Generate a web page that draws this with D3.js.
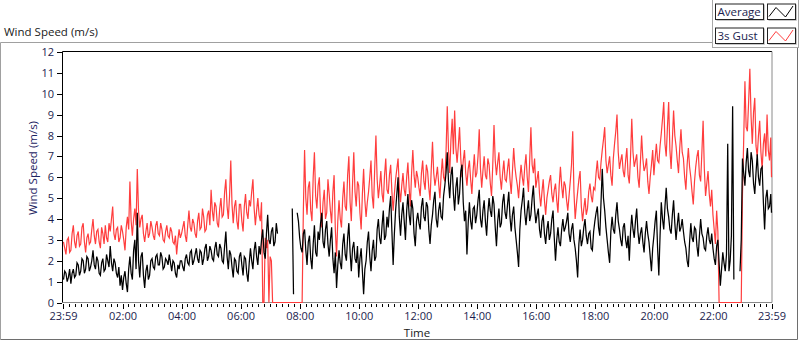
<!DOCTYPE html>
<html>
<head>
<meta charset="utf-8">
<script src="https://cdnjs.cloudflare.com/ajax/libs/d3/7.8.5/d3.min.js"></script>
<style>
	body { margin: 0; background: #fff; }
	svg text { font-family: 'Open Sans', 'Noto Sans', sans-serif; font-size: 11.5px; }
</style>
</head>
<body>
<div class="wind_chart"></div>
<script>
const WIDTH = 800;
const HEIGHT = 342;
const PLOT = { left: 62.5, right: 772, top: 51.5, bottom: 302.5 };

// one sample every 2.5 minutes, starting at 00:00
const SAMPLE_MIN = 2.5;
const START_MIN = -1; // 23:59 the day before
const END_MIN = 1439; // 23:59

const yTicks = [0, 1, 2, 3, 4, 5, 6, 7, 8, 9, 10, 11, 12];
const timeTickMins = [-1, 120, 240, 360, 480, 600, 720, 840, 960, 1080, 1200, 1320, 1439];
const timeTickLabels = ['23:59', '02:00', '04:00', '06:00', '08:00', '10:00', '12:00',
	'14:00', '16:00', '18:00', '20:00', '22:00', '23:59'];
const seriesNames = ['Average', '3s Gust'];

// average wind speed (m/s), one row per hour 00..23, null = no reading
const avgSpeed = [
	1.1, 1.5, 1.4, 1.0, 1.2, 1.6, 0.9, 1.4, 1.6, 1.2, 1.3, 1.9, 1.8, 1.3, 1.5, 2.1, 2.0, 1.4, 1.6, 2.2, 2.1, 1.5, 1.7, 2.0,
	2.5, 1.8, 1.6, 2.2, 2.0, 1.4, 1.3, 1.9, 2.1, 1.5, 1.6, 2.3, 2.0, 1.7, 2.7, 1.9, 1.5, 2.1, 1.9, 1.4, 1.2, 1.7, 0.8, 1.3,
	0.6, 1.2, 1.5, 0.9, 0.5, 1.6, 2.2, 1.4, 1.1, 2.5, 3.0, 1.6, 4.3, 2.0, 1.2, 2.2, 2.4, 1.3, 0.7, 1.5, 1.8, 1.1, 1.3, 2.0,
	2.1, 1.7, 1.6, 2.2, 2.3, 1.8, 1.8, 2.4, 2.2, 1.6, 1.7, 2.1, 2.0, 1.8, 2.3, 1.9, 1.5, 2.0, 1.9, 1.4, 1.2, 1.8, 1.6, 2.0,
	2.0, 1.7, 1.5, 2.1, 2.3, 1.9, 1.8, 2.4, 2.5, 1.8, 2.0, 2.3, 2.6, 2.1, 1.9, 2.5, 2.4, 1.8, 2.1, 2.6, 2.8, 2.0, 2.2, 2.7,
	2.5, 2.1, 2.0, 2.6, 2.9, 2.3, 2.2, 2.8, 2.6, 2.0, 1.9, 2.7, 3.4, 2.2, 1.6, 2.5, 2.3, 1.7, 1.2, 2.1, 2.0, 1.5, 1.4, 2.2,
	2.4, 1.8, 1.3, 2.2, 2.1, 1.4, 1.0, 1.9, 2.6, 2.0, 1.6, 2.5, 2.9, 2.2, 1.8, 2.7, 2.3, 3.0, 3.5, 2.4, 2.1, 3.3, 4.2, 3.0,
	2.8, 3.4, 3.6, 2.7, 2.9, 3.8, 3.3, null, null, null, null, null, null, null, null, null, null, null, 4.5, 0.4, null, null, 4.3, 3.9,
	3.1, 2.6, 2.4, 3.3, 3.5, 2.5, 1.8, 2.9, 3.2, 2.1, 1.6, 2.8, 3.7, 2.4, 2.2, 3.4, 3.0, 3.8, 4.3, 2.9, 2.6, 3.5, 3.9, 2.8,
	2.2, 3.0, 3.6, 2.1, 1.4, 2.4, 0.7, 1.8, 2.5, 1.9, 1.6, 2.8, 3.3, 2.3, 2.0, 3.1, 3.8, 2.4, 1.5, 2.6, 2.9, 2.1, 1.9, 2.7,
	1.2, 2.1, 2.6, 1.5, 0.4, 1.6, 2.0, 2.9, 3.4, 2.2, 1.5, 2.5, 3.0, 2.0, 2.2, 3.5, 4.0, 3.1, 2.8, 3.7, 4.4, 3.0, 3.2, 4.1,
	3.6, 4.5, 5.1, 3.4, 1.8, 3.3, 4.4, 5.2, 6.0, 4.1, 3.2, 4.2, 4.8, 3.9, 3.0, 4.4, 5.2, 4.2, 3.7, 4.9, 4.5, 3.3, 2.7, 3.9,
	4.3, 3.8, 3.5, 4.6, 5.0, 4.1, 3.9, 4.8, 4.6, 3.5, 2.8, 3.7, 4.2, 4.9, 5.3, 4.0, 3.6, 4.4, 4.8, 4.1, 4.0, 5.1, 5.6, 6.2,
	7.2, 5.8, 5.0, 6.1, 6.5, 5.2, 4.4, 5.5, 6.0, 4.7, 5.2, 6.3, 6.6, 4.8, 3.9, 4.4, 2.3, 3.8, 4.8, 3.9, 3.5, 4.5, 4.6, 3.8,
	4.2, 4.9, 5.4, 4.0, 3.6, 4.4, 4.9, 3.9, 3.2, 4.3, 5.0, 4.4, 4.1, 5.1, 4.7, 3.6, 2.7, 3.9, 4.5, 3.6, 3.8, 4.8, 5.2, 4.3,
	4.0, 4.7, 5.3, 4.1, 3.4, 4.2, 4.6, 3.6, 3.0, 2.4, 1.7, 3.5, 4.4, 4.9, 5.5, 4.3, 3.7, 4.4, 4.9, 3.9, 4.2, 5.0, 5.6, 4.5,
	3.8, 4.2, 4.5, 3.5, 3.1, 3.9, 4.2, 3.3, 2.8, 3.5, 3.9, 3.0, 3.3, 4.0, 4.4, 3.1, 2.0, 3.0, 3.6, 2.9, 2.7, 3.5, 4.0, 3.4,
	3.6, 3.9, 4.3, 3.3, 2.9, 3.5, 3.8, 3.0, 2.6, 2.0, 1.2, 2.8, 3.5, 2.7, 3.0, 3.6, 4.0, 3.2, 2.8, 3.3, 3.4, 2.6, 2.5, 3.4,
	3.9, 4.3, 4.6, 3.6, 3.2, 4.8, 6.4, 5.0, 4.4, 3.6, 3.0, 2.4, 1.9, 3.4, 4.1, 3.5, 3.3, 4.2, 4.8, 3.9, 3.5, 3.0, 2.7, 3.6,
	3.8, 3.0, 2.6, 3.2, 2.0, 3.4, 4.2, 3.5, 3.1, 3.9, 4.5, 3.4, 2.8, 3.3, 3.6, 2.9, 2.4, 3.3, 3.9, 3.3, 2.9, 2.2, 1.5, 2.6,
	3.2, 3.9, 4.4, 2.6, 1.3, 3.2, 4.8, 4.0, 3.5, 4.6, 5.5, 4.5, 4.1, 3.5, 3.3, 4.2, 4.9, 3.8, 3.0, 3.7, 4.3, 3.4, 3.6, 4.0,
	3.4, 2.9, 2.6, 2.0, 1.7, 2.9, 3.8, 3.1, 2.9, 3.6, 3.5, 2.7, 2.2, 3.2, 4.0, 3.3, 3.1, 2.6, 2.5, 3.2, 3.6, 3.0, 2.8, 3.3,
	2.6, 2.1, 1.8, 2.7, 3.0, 1.9, 0.8, 1.6, 2.4, 1.9, 1.5, 2.3, 7.6, 1.5, 2.0, 3.2, 9.4, 1.1, null, null, null, null, 1.5, 3.0,
	6.9, 6.2, 5.6, 6.7, 7.4, 6.3, 6.0, 7.2, 6.8, 5.7, 5.2, 6.2, 7.1, 6.0, 5.6, 6.4, 6.5, 4.8, 3.5, 5.0, 5.4, 4.5, 4.6, 5.2,
	4.3
];

// 3 second gust (m/s), same layout
const gustSpeed = [
	2.9, 2.6, 2.3, 3.0, 3.1, 2.4, 2.5, 3.3, 3.7, 2.9, 2.6, 3.2, 3.4, 2.7, 2.8, 3.6, 3.8, 2.9, 2.4, 3.1, 3.3, 2.8, 2.9, 3.5,
	4.0, 3.2, 2.8, 3.4, 3.5, 2.9, 2.6, 3.6, 3.3, 2.8, 3.7, 3.1, 2.9, 3.8, 3.4, 4.0, 4.6, 3.3, 3.0, 3.5, 3.6, 2.9, 3.1, 3.7,
	3.4, 3.0, 2.5, 3.6, 4.1, 3.5, 5.8, 3.9, 3.2, 4.0, 4.5, 3.7, 6.4, 4.4, 3.6, 4.0, 4.2, 3.3, 2.9, 3.4, 3.8, 3.1, 3.3, 3.9,
	3.6, 3.2, 3.0, 3.7, 3.9, 3.3, 3.2, 3.8, 3.5, 3.0, 2.9, 3.4, 3.7, 3.2, 3.1, 3.6, 3.4, 2.9, 2.8, 3.2, 2.3, 3.0, 3.5, 3.1,
	3.3, 3.6, 3.9, 3.2, 2.9, 3.7, 4.4, 3.6, 3.4, 4.0, 3.8, 3.3, 3.1, 3.9, 4.3, 3.5, 3.6, 4.5, 4.1, 3.4, 3.5, 4.2, 4.4, 3.7,
	5.4, 4.4, 3.9, 4.8, 4.6, 3.8, 3.6, 4.5, 5.0, 4.1, 4.2, 5.3, 5.9, 4.6, 4.0, 5.1, 6.8, 4.7, 3.8, 4.6, 4.9, 3.9, 3.5, 4.7,
	4.7, 3.9, 3.4, 4.6, 5.2, 4.3, 4.0, 4.9, 4.6, 5.3, 5.9, 4.5, 3.7, 4.4, 5.0, 4.2, 3.9, 4.8, 0, 0, 3.1, 2.6, 3.0, 0,
	2.2, 2.0, 0, 0, 0, 0, 0, 0, 0, 0, 0, 0, 0, 0, 0, 0, 0, 0, 0, 0, 0, 0, 0, 0,
	0, 0, 0, 4.4, 7.3, 5.0, 4.2, 5.5, 5.8, 4.4, 3.9, 6.0, 7.2, 5.1, 4.5, 5.6, 6.0, 4.3, 3.6, 4.8, 5.4, 4.0, 4.3, 5.9,
	5.2, 4.4, 3.8, 5.3, 6.1, 3.5, 2.2, 3.9, 4.9, 4.0, 3.6, 5.0, 5.8, 4.6, 4.4, 6.1, 7.0, 4.8, 3.9, 5.7, 7.2, 5.3, 4.6, 5.8,
	5.6, 4.3, 3.5, 5.2, 6.4, 4.9, 4.1, 4.8, 5.3, 6.0, 6.8, 5.1, 4.5, 6.4, 8.0, 5.9, 5.0, 5.6, 6.3, 5.2, 4.8, 6.1, 6.9, 5.4,
	5.2, 6.1, 6.6, 5.3, 4.4, 5.2, 5.9, 6.4, 6.9, 5.5, 4.8, 5.6, 6.2, 5.4, 5.1, 6.0, 6.7, 5.5, 4.6, 6.2, 7.3, 6.1, 5.5, 6.3,
	6.0, 5.5, 5.1, 6.2, 6.8, 5.8, 5.4, 6.6, 6.3, 5.5, 4.9, 6.4, 7.7, 6.2, 5.6, 6.0, 6.5, 5.7, 5.0, 6.1, 6.9, 6.0, 5.8, 7.2,
	9.4, 7.3, 6.2, 7.8, 8.8, 7.1, 9.2, 7.4, 6.7, 7.5, 8.4, 6.9, 6.0, 6.8, 7.3, 6.2, 5.6, 6.4, 6.8, 5.9, 5.2, 6.3, 7.1, 6.0,
	6.2, 7.0, 8.3, 6.4, 5.5, 6.3, 7.0, 6.1, 5.9, 6.9, 6.6, 5.7, 5.1, 6.6, 8.5, 6.8, 6.1, 6.7, 7.2, 6.0, 5.4, 6.2, 6.8, 5.9,
	5.8, 6.4, 6.9, 5.9, 5.2, 6.3, 7.4, 6.5, 6.0, 5.6, 5.0, 5.9, 6.6, 6.0, 5.6, 6.5, 7.1, 6.0, 5.3, 6.8, 8.4, 6.6, 6.2, 6.9,
	5.5, 5.9, 6.3, 5.2, 4.6, 5.3, 5.9, 4.9, 4.2, 5.0, 5.4, 5.8, 6.1, 5.2, 4.8, 5.4, 5.7, 4.9, 4.3, 5.6, 6.5, 5.6, 5.0, 5.8,
	5.6, 4.9, 4.4, 5.1, 5.8, 6.6, 8.2, 5.3, 4.0, 4.7, 5.3, 5.9, 6.3, 4.6, 3.9, 4.5, 5.0, 4.2, 4.5, 5.3, 5.7, 5.1, 4.8, 5.5,
	5.4, 6.2, 6.8, 6.0, 5.9, 6.7, 7.3, 7.8, 8.4, 6.8, 6.2, 6.6, 7.0, 6.1, 5.6, 6.9, 7.6, 8.2, 9.0, 7.2, 6.4, 6.8, 7.1, 6.3,
	6.0, 6.8, 7.4, 6.1, 5.7, 7.0, 8.8, 7.2, 6.5, 6.8, 7.1, 6.0, 5.5, 6.7, 8.0, 6.9, 6.3, 6.5, 6.9, 5.8, 5.2, 6.0, 6.6, 7.3,
	6.1, 6.9, 7.6, 6.8, 6.7, 7.5, 8.1, 8.8, 9.6, 7.6, 7.0, 8.4, 9.6, 7.3, 6.4, 7.8, 9.2, 8.0, 7.5, 6.8, 6.2, 7.4, 8.3, 7.2,
	6.9, 6.0, 5.4, 6.6, 7.4, 6.5, 6.0, 5.3, 4.7, 5.8, 6.5, 7.0, 7.3, 6.1, 5.8, 7.2, 8.7, 6.4, 5.1, 5.7, 6.3, 5.2, 4.6, 5.4,
	4.2, 3.5, 2.8, 4.4, 3.4, 0, 0, 0, 0, 0, 0, 0, 0, 0, 0, 0, 0, 0, 0, 0, 0, 0, 0, 0,
	5.2, 7.8, 10.6, 8.4, 8.2, 9.6, 11.2, 8.9, 7.6, 9.1, 9.8, 7.5, 7.0, 8.0, 8.7, 7.2, 6.4, 7.6, 8.1, 7.0, 9.0, 7.3, 6.8, 7.9,
	6.0
];

const svg = d3
	.select('.wind_chart')
	.append('svg')
	.attr('width', WIDTH)
	.attr('height', HEIGHT);

// outer frame of the chart
svg.append('path')
	.attr('d', `M0.5,339.5 V42.5 H713`)
	.attr('fill', 'none')
	.attr('stroke', '#a0a0a0');
svg.append('path')
	.attr('d', `M0.5,339.5 H797.5 V42.5`)
	.attr('fill', 'none')
	.attr('stroke', '#6e6e6e');

svg.append('text')
	.attr('x', 4)
	.attr('y', 36)
	.attr('fill', '#1a1a1a')
	.text('Wind Speed (m/s)');

// scales
const xScale = d3
	.scaleLinear()
	.domain([START_MIN, END_MIN])
	.range([PLOT.left + 0.5, PLOT.right - 0.5]);

const yScale = d3
	.scaleLinear()
	.domain([0, 12])
	.range([PLOT.bottom, PLOT.top + 0.5]);

// plot area border: dark top/left, grey right/bottom
svg.append('path')
	.attr('d', `M${PLOT.right},${PLOT.bottom} H${PLOT.left} V${PLOT.top} H${PLOT.right}`)
	.attr('fill', 'none')
	.attr('stroke', '#000');
svg.append('path')
	.attr('d', `M${PLOT.right},${PLOT.top} V${PLOT.bottom} H${PLOT.left}`)
	.attr('fill', 'none')
	.attr('stroke', '#8a8a8a');

// axes
const yAxis = d3.axisLeft(yScale).tickValues(yTicks).tickSize(5).tickPadding(3);
const yG = svg.append('g')
	.attr('transform', `translate(${PLOT.left - 0.5}, 0)`)
	.call(yAxis);

const xMinor = d3.axisBottom(xScale)
	.tickValues(d3.range(0, END_MIN, 12).concat([START_MIN, END_MIN]))
	.tickSize(3)
	.tickFormat('');
const xMinorG = svg.append('g')
	.attr('transform', `translate(0, ${PLOT.bottom + 1})`)
	.call(xMinor);

const xAxis = d3.axisBottom(xScale)
	.tickValues(timeTickMins)
	.tickSize(5)
	.tickPadding(4)
	.tickFormat((d, i) => timeTickLabels[i]);
const xG = svg.append('g')
	.attr('transform', `translate(0, ${PLOT.bottom + 1})`)
	.call(xAxis);

[yG, xMinorG, xG].forEach(g => {
	g.select('.domain').remove();
	g.selectAll('.tick line').attr('stroke', '#000').attr('shape-rendering', 'crispEdges');
	g.selectAll('.tick text')
		.attr('fill', '#1b1d4e')
		.style('font-size', '11px');
});

svg.append('text')
	.attr('text-anchor', 'middle')
	.attr('x', 417)
	.attr('y', 337)
	.attr('fill', '#1a1a1a')
	.text('Time');

svg.append('text')
	.attr('transform', 'rotate(-90)')
	.attr('text-anchor', 'middle')
	.attr('x', -168)
	.attr('y', 37)
	.attr('fill', '#1c2462')
	.text('Wind Speed (m/s)');

// the two series
const toPoints = arr => arr.map((v, i) => ({ t: Math.min(i * SAMPLE_MIN, END_MIN), v: v }));

const line = d3
	.line()
	.defined(d => d.v !== null)
	.x(d => xScale(d.t))
	.y(d => yScale(d.v));

svg.append('path')
	.datum(toPoints(gustSpeed))
	.attr('d', line)
	.attr('fill', 'none')
	.attr('stroke', '#ff3d3d')
	.attr('stroke-width', 1.2);

svg.append('path')
	.datum(toPoints(avgSpeed))
	.attr('d', line)
	.attr('fill', 'none')
	.attr('stroke', '#000')
	.attr('stroke-width', 1.25);

// legend panel in top right corner
const legend = svg.append('g');
legend.append('rect')
	.attr('x', 712.5)
	.attr('y', -1)
	.attr('width', 86)
	.attr('height', 48.5)
	.attr('fill', '#fff')
	.attr('stroke', '#a8a8a8');

const legendColors = ['#000', '#ff3d3d'];
seriesNames.forEach((name, i) => {
	const top = 4.5 + i * 24;
	// label box
	legend.append('path')
		.attr('d', `M716.5,${top + 16} H764.5 V${top}`)
		.attr('fill', 'none')
		.attr('stroke', '#c8c8c8');
	legend.append('rect')
		.attr('x', 715.5)
		.attr('y', top - 0.5)
		.attr('width', 48)
		.attr('height', 15.5)
		.attr('fill', '#fff')
		.attr('stroke', '#222');
	legend.append('text')
		.attr('x', 717.5)
		.attr('y', top + 11.5)
		.attr('fill', '#1b1d4e')
		.text(name);
	// swatch box
	legend.append('path')
		.attr('d', `M768.5,${top + 16} H796.5 V${top}`)
		.attr('fill', 'none')
		.attr('stroke', '#c8c8c8');
	legend.append('rect')
		.attr('x', 767.5)
		.attr('y', top - 0.5)
		.attr('width', 28)
		.attr('height', 15.5)
		.attr('fill', '#fff')
		.attr('stroke', '#222');
	legend.append('path')
		.attr('d', `M769,${top + 12} L776,${top + 3} L785.5,${top + 12.5} L793,${top + 1.5}`)
		.attr('fill', 'none')
		.attr('stroke', legendColors[i]);
});
</script>
</body>
</html>
